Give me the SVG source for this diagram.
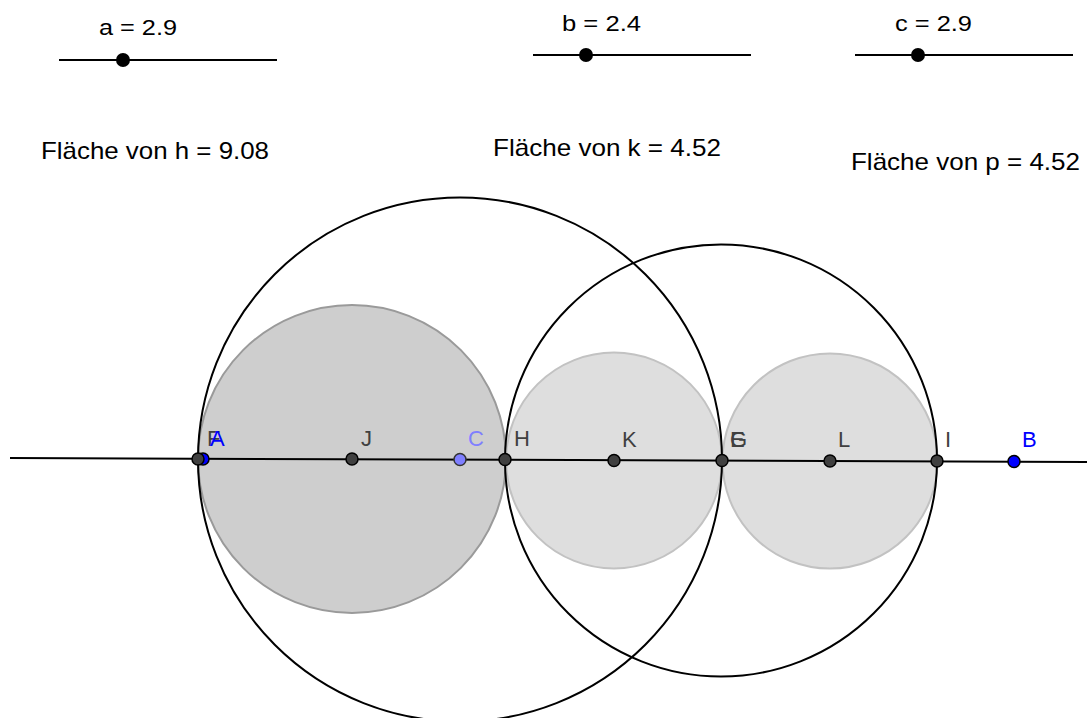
<svg xmlns="http://www.w3.org/2000/svg" width="1087" height="718" viewBox="0 0 1087 718">
<style>
.t{font-family:"Liberation Sans",Arial,sans-serif;fill:#000}
.sl{font-size:22px}
.fl{font-size:24px}
.lbl{font-family:"Liberation Sans",Arial,sans-serif;font-size:22px;fill:#404040}
.pt{fill:#404040;stroke:#000;stroke-width:1.5}
.outer{fill:none;stroke:#000;stroke-width:2}
.knob{fill:#000}
.track{stroke:#000;stroke-width:2}
</style>
<rect width="1087" height="718" fill="#fff"/>
<g id="slider-a">
<text class="t sl" x="99" y="35" textLength="78" lengthAdjust="spacingAndGlyphs">a = 2.9</text>
<line class="track" x1="59" y1="60" x2="277" y2="60"/>
<circle class="knob" cx="123" cy="60" r="7"/>
</g>
<g id="slider-b">
<text class="t sl" x="562" y="31" textLength="79" lengthAdjust="spacingAndGlyphs">b = 2.4</text>
<line class="track" x1="533" y1="55" x2="751" y2="55"/>
<circle class="knob" cx="586" cy="55" r="7"/>
</g>
<g id="slider-c">
<text class="t sl" x="895" y="31" textLength="77" lengthAdjust="spacingAndGlyphs">c = 2.9</text>
<line class="track" x1="855" y1="55" x2="1073" y2="55"/>
<circle class="knob" cx="918" cy="55" r="7"/>
</g>
<g id="area-texts">
<text class="t fl" x="41" y="159" textLength="228" lengthAdjust="spacingAndGlyphs">Fläche von h = 9.08</text>
<text class="t fl" x="493" y="156" textLength="228" lengthAdjust="spacingAndGlyphs">Fläche von k = 4.52</text>
<text class="t fl" x="851" y="170" textLength="229" lengthAdjust="spacingAndGlyphs">Fläche von p = 4.52</text>
</g>
<g id="circle-h"><circle cx="352" cy="459" r="154" fill="#cecece" stroke="#9a9a9a" stroke-width="2"/></g>
<g id="circle-k"><circle cx="614" cy="460.5" r="108" fill="#dedede" stroke="#c2c2c2" stroke-width="2"/></g>
<g id="circle-p"><circle cx="830" cy="461" r="107.5" fill="#dedede" stroke="#c2c2c2" stroke-width="2"/></g>
<g id="outer-1"><circle class="outer" cx="460" cy="459.5" r="262"/></g>
<g id="outer-2"><circle class="outer" cx="721" cy="460.5" r="216"/></g>
<g id="connectors">
<line x1="10" y1="458" x2="1087" y2="462" stroke="#000" stroke-width="2"/>
</g>
<g id="point-A"><circle cx="203" cy="459" r="6" fill="#0000ff" stroke="#000" stroke-width="1.5"/></g>
<g id="point-F"><circle class="pt" cx="198" cy="459" r="6"/><text class="lbl" x="207" y="446">F</text></g>
<g id="label-A"><text class="lbl" x="210" y="446" style="fill:#0000ff">A</text></g>
<g id="point-J"><circle class="pt" cx="352" cy="459" r="6"/><text class="lbl" x="361" y="446">J</text></g>
<g id="point-C"><circle cx="460" cy="459.5" r="6" fill="#7f7fff" stroke="#333" stroke-width="1.5"/><text class="lbl" x="468" y="446" style="fill:#7f7fff">C</text></g>
<g id="point-H"><circle class="pt" cx="505" cy="459.5" r="6"/><text class="lbl" x="514" y="446">H</text></g>
<g id="point-K"><circle class="pt" cx="614" cy="460.5" r="6"/><text class="lbl" x="622" y="447">K</text></g>
<g id="point-E"><text class="lbl" x="730" y="447">E</text></g>
<g id="point-G"><circle class="pt" cx="722" cy="460.5" r="6"/><text class="lbl" x="730" y="447">G</text></g>
<g id="point-L"><circle class="pt" cx="830" cy="461" r="6"/><text class="lbl" x="838" y="447">L</text></g>
<g id="point-I"><circle class="pt" cx="937" cy="461" r="6"/><text class="lbl" x="945" y="447">I</text></g>
<g id="point-B"><circle cx="1014" cy="461.5" r="6" fill="#0000ff" stroke="#000" stroke-width="1.5"/><text class="lbl" x="1022" y="447" style="fill:#0000ff">B</text></g>
</svg>
